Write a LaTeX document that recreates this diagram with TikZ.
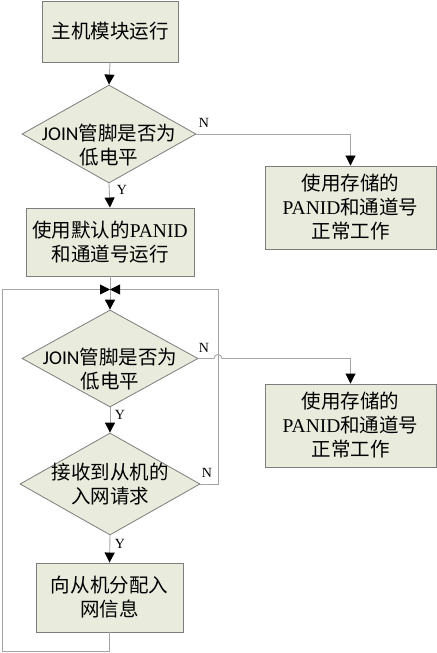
\documentclass[tikz,border=0pt]{standalone}
\usepackage{fontspec}
\setmainfont{Noto Sans CJK SC}
\newfontfamily\latserif{Liberation Serif}
\newfontfamily\jfont{Carlito}
\usetikzlibrary{shapes.geometric,arrows.meta}
\definecolor{boxfill}{RGB}{233,235,220}
\definecolor{boxdraw}{RGB}{125,125,125}
\definecolor{linecol}{RGB}{165,165,165}
\tikzset{
  procbox/.style={draw=boxdraw,fill=boxfill,line width=0.9bp,inner sep=0pt,align=center,
    font=\fontsize{19.5bp}{24bp}\selectfont},
  decbox/.style={draw=boxdraw,fill=boxfill,line width=0.8bp,shape=diamond,inner sep=0pt},
  dectext/.style={align=center,font=\fontsize{19.5bp}{24bp}\selectfont},
  conn/.style={draw=linecol,line width=0.9bp},
  arr/.style={conn,-{Triangle[length=10bp,width=10bp,color=black]}},
  yn/.style={font=\latserif\fontsize{14bp}{14bp}\selectfont,inner sep=0pt}
}
\begin{document}
\begin{tikzpicture}[x=1bp,y=-1bp]
\useasboundingbox (0,0) rectangle (437,653);
% nodes
\node[procbox,minimum width=136bp,minimum height=61bp] (b1) at (110,31.5) {主机模块运行};
\node[decbox,minimum width=174bp,minimum height=98bp] (d1) at (109,134) {};
\node[dectext] (t1) at (109,145) {{\jfont JOIN}管脚是否为\\低电平};
\node[procbox,minimum width=171bp,minimum height=83bp] (r1) at (350.5,207.5) {使用存储的\\{\latserif PANID}和通道号\\正常工作};
\node[procbox,minimum width=168bp,minimum height=68bp] (b2) at (110,242) {使用默认的{\latserif PANID}\\和通道号运行};
\coordinate (j) at (110,289.5);
\node[decbox,minimum width=176bp,minimum height=97bp] (d2) at (110,358.5) {};
\node[dectext] (t2) at (110,369.5) {{\jfont JOIN}管脚是否为\\低电平};
\node[procbox,minimum width=171bp,minimum height=83bp] (r2) at (350.5,425.5) {使用存储的\\{\latserif PANID}和通道号\\正常工作};
\node[decbox,minimum width=180bp,minimum height=102bp] (d3) at (110,484) {};
\node[dectext] (t3) at (110,484) {接收到从机的\\入网请求};
\node[procbox,minimum width=147bp,minimum height=69bp] (b3) at (109.5,597.5) {向从机分配入\\网信息};
% labels
\node[yn] (n1) at (204,123) {N};
\node[yn] (y1) at (122,190) {Y};
\node[yn] (n2) at (204,348) {N};
\node[yn] (y2) at (120,415) {Y};
\node[yn] (n3) at (207,473) {N};
\node[yn] (y3) at (120,544) {Y};
% connectors
\draw[arr] (b1.south) -- (d1.north);
\draw[arr] (d1.east) -- (r1.north |- d1.east) -- (r1.north);
\draw[arr] (d1.south) -- (b2.north);
\draw[arr] (b2.south) -- (d2.north);
\draw[arr] (d2.east) -- (214,358.5) arc[start angle=180,end angle=0,radius=4bp] -- (r2.north |- d2.east) -- (r2.north);
\draw[arr] (d2.south) -- (d3.north);
\draw[arr] (d3.east) -- (218,484) -- (218,289.5) -- (j);
\draw[arr] (d3.south) -- (b3.north);
\draw[arr] (b3.south) -- (109.5,651) -- (2,651) -- (2,289.5) -- (j);
\end{tikzpicture}
\end{document}
